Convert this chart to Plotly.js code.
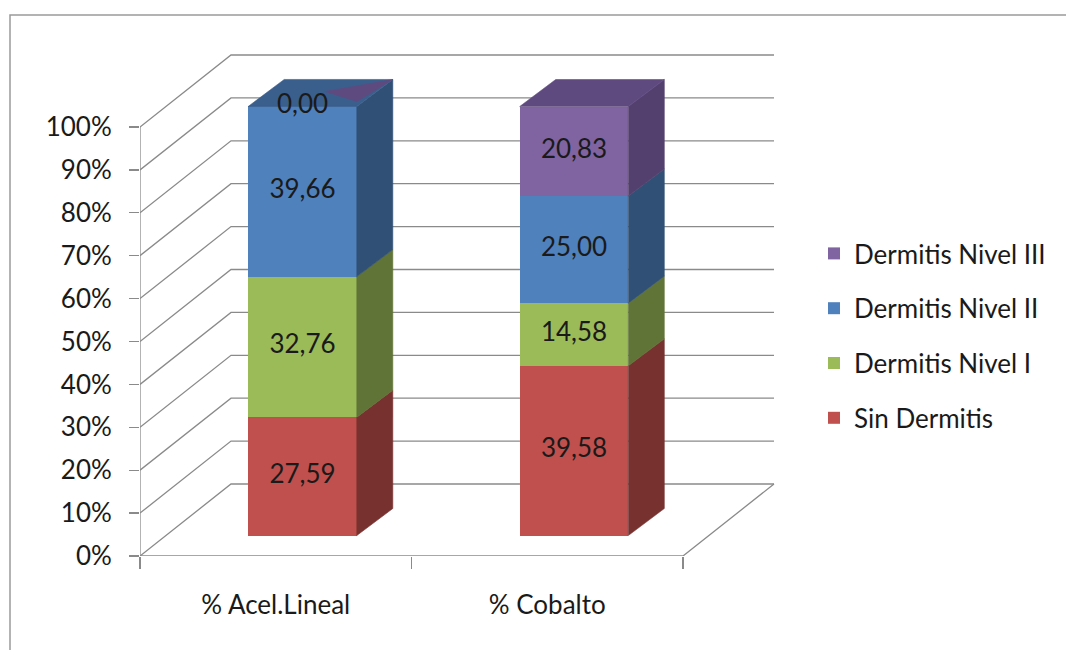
<!DOCTYPE html>
<html>
<head>
<meta charset="utf-8">
<script src="https://cdn.plot.ly/plotly-3.0.1.min.js"></script>
<style>html,body{margin:0;padding:0;background:#fff;}#chart{width:1066px;height:650px;}</style>
</head>
<body>
<div id="chart"></div>
<script>
// ---- data ----
const categories = ['% Acel.Lineal', '% Cobalto'];
const seriesNames = ['Sin Dermitis', 'Dermitis Nivel I', 'Dermitis Nivel II', 'Dermitis Nivel III'];
const sinDermitis = [27.59, 39.58];
const dermitisNivelI = [32.76, 14.58];
const dermitisNivelII = [39.66, 25.00];
const dermitisNivelIII = [0.00, 20.83];
const yTickVals = [0, 10, 20, 30, 40, 50, 60, 70, 80, 90, 100];
const yTickText = ['0%', '10%', '20%', '30%', '40%', '50%', '60%', '70%', '80%', '90%', '100%'];

// ---- style ----
const frontColors = ['#C0504D', '#9BBB59', '#4F81BD', '#8064A2'];
const sideColors  = ['#773230', '#607437', '#315075', '#54406F'];
const topColors   = ['#8E3B39', '#728D42', '#3A5F8C', '#5F4A80'];
const FONT = 'Lato, "Open Sans", sans-serif';
const FS = 26;
const gridColor = '#8a8a8a';

const seriesValues = [sinDermitis, dermitisNivelI, dermitisNivelII, dermitisNivelIII];

// projection geometry (in axis units)
const pxPerX = 271.5, pxPerY = 4.29;
const W = 636, H = 506;
const xMax = W / pxPerX, yMax = H / pxPerY;
const wallDX = 91 / pxPerX, wallDY = 72 / pxPerY;   // full depth of the floor
const frontDX = 26.75 / pxPerX, frontDY = 20.5 / pxPerY; // bar front plane
const barDX = 36 / pxPerX, barDY = 27 / pxPerY;   // bar depth
const barW = 0.4;

const traces = [];
const lastCat = categories.length;

// back wall + left wall grid lines (xy)
yTickVals.forEach(v => {
  traces.push({
    x: [0, wallDX, lastCat + wallDX], y: [v, v + wallDY, v + wallDY],
    xaxis: 'x', yaxis: 'y', mode: 'lines', hoverinfo: 'skip', showlegend: false,
    line: {color: gridColor, width: 1.3}
  });
});
// front y-axis line
traces.push({x: [0, 0], y: [yTickVals[0], yTickVals[yTickVals.length - 1]], xaxis: 'x', yaxis: 'y',
  mode: 'lines', hoverinfo: 'skip', showlegend: false, line: {color: gridColor, width: 1.3}});
// floor front edge and right edge
traces.push({x: [0, lastCat, lastCat + wallDX], y: [0, 0, wallDY], xaxis: 'x', yaxis: 'y',
  mode: 'lines', hoverinfo: 'skip', showlegend: false, line: {color: gridColor, width: 1.3}});

const centers = categories.map((c, i) => i + 0.5);

// front faces: stacked bars on overlay axes (x2/y2)
seriesValues.forEach((vals, s) => {
  traces.push({
    type: 'bar', name: seriesNames[s], x: centers, y: vals, width: barW,
    xaxis: 'x2', yaxis: 'y2', legendgroup: 'g' + s, legendrank: 100 - s,
    marker: {color: frontColors[s], line: {width: 0}},
    hoverinfo: 'skip'
  });
});

// side and top faces
const labelX = [], labelY = [], labelT = [];
categories.forEach((c, i) => {
  let cum = 0;
  const xc = centers[i];
  const xL = xc - barW / 2, xR = xc + barW / 2;
  let topSeries = 0;
  seriesValues.forEach((vals, s) => {
    const b = cum, t = cum + vals[i];
    if (vals[i] > 0) {
      traces.push({
        x: [xR, xR + barDX, xR + barDX, xR, xR], y: [b, b + barDY, t + barDY, t, b],
        xaxis: 'x2', yaxis: 'y2', mode: 'lines', fill: 'toself', fillcolor: sideColors[s],
        line: {color: sideColors[s], width: 0.6}, hoverinfo: 'skip', showlegend: false
      });
      topSeries = s;
    }
    labelX.push(xc); labelY.push(b + vals[i] / 2);
    labelT.push(vals[i].toFixed(2).replace('.', ','));
    cum = t;
  });
  const T = cum;
  traces.push({
    x: [xL, xL + barDX, xR + barDX, xR, xL], y: [T, T + barDY, T + barDY, T, T],
    xaxis: 'x2', yaxis: 'y2', mode: 'lines', fill: 'toself', fillcolor: topColors[topSeries],
    line: {color: topColors[topSeries], width: 0.6}, hoverinfo: 'skip', showlegend: false
  });
  // zero-height top segment shows as a sliver on the top face
  seriesValues.forEach((vals, s) => {
    if (s > topSeries && vals[i] === 0) {
      const uv = [[0.52, 0.556], [1, 1], [0.94, 0.185], [0.52, 0.556]];
      traces.push({
        x: uv.map(p => xL + p[0] * barW + p[1] * barDX), y: uv.map(p => T + p[1] * barDY),
        xaxis: 'x2', yaxis: 'y2', mode: 'lines', fill: 'toself', fillcolor: topColors[s],
        line: {color: topColors[s], width: 0.5}, hoverinfo: 'skip', showlegend: false
      });
    }
  });
});

// data labels
traces.push({
  x: labelX, y: labelY, text: labelT, mode: 'text', xaxis: 'x2', yaxis: 'y2',
  textfont: {family: FONT, size: FS, color: '#1a1a1a'}, cliponaxis: false,
  hoverinfo: 'skip', showlegend: false
});

const layout = {
  width: 1066, height: 650,
  margin: {l: 140, r: 1066 - 140 - W, t: 50, b: 650 - 50 - H},
  paper_bgcolor: '#fff', plot_bgcolor: 'rgba(0,0,0,0)',
  barmode: 'stack', showlegend: true,
  font: {family: FONT, size: FS, color: '#1a1a1a'},
  xaxis: {
    range: [0, xMax], tickmode: 'array', tickvals: centers, ticktext: categories,
    ticks: '', showgrid: false, zeroline: false, showline: false, fixedrange: true,
    ticklabelstandoff: 31, tickfont: {family: FONT, size: FS, color: '#1a1a1a'},
    minor: {tickmode: 'array', tickvals: [0, 1, 2], ticks: 'outside', ticklen: 12,
            tickcolor: gridColor, tickwidth: 1.3, showgrid: false}
  },
  yaxis: {
    range: [0, yMax], tickmode: 'array', tickvals: yTickVals, ticktext: yTickText,
    ticks: 'outside', ticklen: 10, tickcolor: gridColor, tickwidth: 1.3,
    showgrid: false, zeroline: false, showline: false, fixedrange: true,
    ticklabelstandoff: 12, tickfont: {family: FONT, size: FS, color: '#1a1a1a'}
  },
  xaxis2: {overlaying: 'x', anchor: 'y2', range: [-frontDX, xMax - frontDX], visible: false, fixedrange: true},
  yaxis2: {overlaying: 'y', anchor: 'x2', range: [-frontDY, yMax - frontDY], visible: false, fixedrange: true},
  legend: {
    x: (814 - 140) / W, xanchor: 'left', y: (556 - 230) / H, yanchor: 'top',
    traceorder: 'grouped', tracegroupgap: 18,
    font: {family: FONT, size: FS, color: '#1a1a1a'}, bgcolor: 'rgba(0,0,0,0)'
  },
  shapes: [{
    type: 'rect', xref: 'paper', yref: 'paper',
    x0: (10 - 140) / W, x1: (1080 - 140) / W, y0: (556 - 665) / H, y1: (556 - 15) / H,
    line: {color: '#9a9a9a', width: 1.5}, fillcolor: 'rgba(0,0,0,0)', layer: 'below'
  }]
};

Plotly.newPlot('chart', traces, layout, {displayModeBar: false, staticPlot: true});
</script>
</body>
</html>
